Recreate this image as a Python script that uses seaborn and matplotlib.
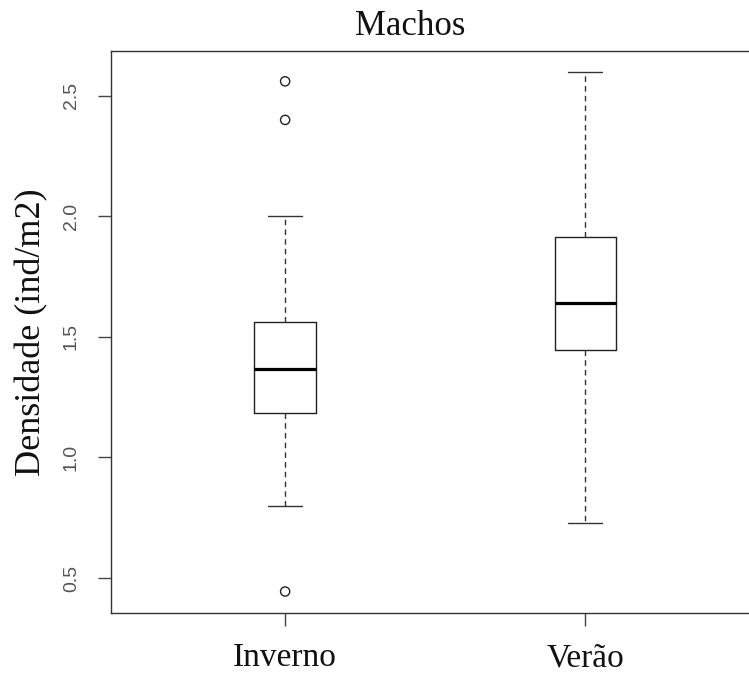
import matplotlib
matplotlib.use("Agg")
import matplotlib.pyplot as plt
import seaborn as sns

# Seasons and five-number summaries of male density (ind/m2)
categories = ["Inverno", "Verão"]
whisker_low = [0.80, 0.73]
q1 = [1.183, 1.444]
median = [1.365, 1.639]
q3 = [1.56, 1.913]
whisker_high = [2.00, 2.60]

# Points beyond the whiskers
outlier_group = ["Inverno", "Inverno", "Inverno"]
outlier_value = [2.56, 2.40, 0.444]

y_ticks = [0.5, 1.0, 1.5, 2.0, 2.5]

sns.set_style("white")
plt.rcParams["font.family"] = ["Liberation Serif", "DejaVu Serif"]

fig = plt.figure(figsize=(7.49, 6.75), dpi=100)
ax = fig.add_axes([0.1482, 0.0919, 0.8658, 0.8326])

stats = [
    dict(whislo=lo, q1=a, med=m, q3=b, whishi=hi, fliers=[], label=c)
    for c, lo, a, m, b, hi in zip(categories, whisker_low, q1, median, q3, whisker_high)
]
positions = list(range(len(categories)))
ax.bxp(
    stats,
    positions=positions,
    widths=0.205,
    capwidths=0.113,
    showfliers=False,
    boxprops=dict(color="#222222", linewidth=1.0),
    whiskerprops=dict(color="#333333", linewidth=1.0, linestyle=(0, (4, 3))),
    capprops=dict(color="#333333", linewidth=1.0),
    medianprops=dict(color="black", linewidth=2.3, solid_capstyle="butt"),
)

sns.scatterplot(
    x=[categories.index(g) for g in outlier_group],
    y=outlier_value,
    ax=ax,
    marker="o",
    s=44,
    facecolor="none",
    edgecolor="#222222",
    linewidth=1.0,
    legend=False,
)

ax.set_xlim(-0.58, 1.58)
ax.set_ylim(0.355, 2.686)

ax.set_xticks(positions)
ax.set_xticklabels(categories, fontsize=24, family=["Liberation Serif", "DejaVu Serif"],
                   color="#111111")
ax.set_yticks(y_ticks)
ax.set_yticklabels([f"{v:.1f}" for v in y_ticks], fontsize=14,
                   family=["Liberation Sans", "DejaVu Sans"], color="#555555",
                   rotation=90, va="center")
ax.tick_params(axis="x", direction="out", length=9.5, width=1.0, color="#444444",
               pad=12, bottom=True)
ax.tick_params(axis="y", direction="out", length=9.5, width=1.0, color="#444444",
               pad=13, left=True)

for sp in ax.spines.values():
    sp.set_visible(True)
    sp.set_color("#333333")
    sp.set_linewidth(1.0)

ax.set_xlabel("")
ax.set_ylabel("")

fig.text(410.5 / 749, 1 - 35 / 675, "Machos", ha="center", va="baseline", fontsize=25,
         color="#111111")
fig.text(32 / 749, 1 - 332 / 675, "Densidade (ind/m2)", ha="center", va="center",
         rotation=90, fontsize=26, color="#111111")

fig.savefig("out.png", dpi=100)
